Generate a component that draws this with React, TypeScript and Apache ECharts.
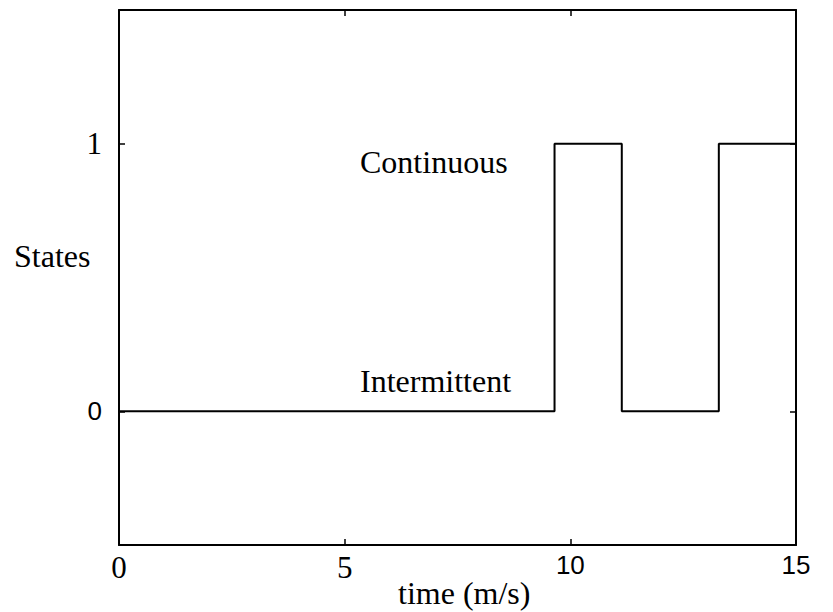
import React, { useEffect, useRef } from "react";
import * as echarts from "echarts";

const switchTimes = [0, 9.65, 11.14, 13.29, 15];
const stateValues = [0, 1, 0, 1, 1];
const xTicks = [0, 5, 10, 15];
const yTicks = [0, 1];
const xRange = [0, 15];
const yRange = [-0.5, 1.5];
const stateLabels = ["Intermittent", "Continuous"];

export default function App() {
  const ref = useRef<HTMLDivElement>(null);
  useEffect(() => {
    if (!ref.current) return;
    const chart = echarts.init(ref.current, undefined, { renderer: "svg" });
    const serif = "Liberation Serif";
    const sans = "Liberation Sans";
    const axisLine = { show: true, onZero: false, lineStyle: { color: "#000", width: 2 } };
    const tickX = { show: true, inside: true, length: 6, customValues: xTicks, lineStyle: { color: "#000", width: 1.5 } };
    const tickY = { show: true, inside: true, length: 6, customValues: yTicks, lineStyle: { color: "#000", width: 1.5 } };
    const data = switchTimes.map((t, i) => [t, stateValues[i]]);
    // x tick labels: 0 and 5 in serif, 10 and 15 in sans (as in the scanned figure)
    const xFont = (v: number) => (v < 10 ? `31px ${serif}` : `26px ${sans}`);
    const yFont = (v: number) => (v === 1 ? `31px ${serif}` : `26px ${sans}`);
    chart.setOption({
      animation: false,
      backgroundColor: "#fff",
      grid: { left: 119, right: 37, top: 10, bottom: 67 },
      xAxis: [
        {
          type: "value",
          min: xRange[0],
          max: xRange[1],
          interval: 5,
          axisLine,
          axisTick: tickX,
          splitLine: { show: false },
          axisLabel: { show: false },
        },
        {
          type: "value",
          position: "top",
          min: xRange[0],
          max: xRange[1],
          interval: 5,
          axisLine,
          axisTick: tickX,
          axisLabel: { show: false },
          splitLine: { show: false },
        },
      ],
      yAxis: [
        {
          type: "value",
          min: yRange[0],
          max: yRange[1],
          interval: 0.5,
          axisLine,
          axisTick: tickY,
          splitLine: { show: false },
          axisLabel: { show: false },
        },
        {
          type: "value",
          position: "right",
          min: yRange[0],
          max: yRange[1],
          interval: 0.5,
          axisLine,
          axisTick: tickY,
          axisLabel: { show: false },
          splitLine: { show: false },
        },
      ],
      series: [
        {
          type: "line",
          step: "end",
          data,
          symbol: "none",
          lineStyle: { color: "#000", width: 2 },
          z: 3,
        },
        {
          type: "custom",
          clip: false,
          silent: true,
          data: xTicks.map((v) => [v, yRange[0]]),
          renderItem: (params: any, api: any) => {
            const v = api.value(0);
            const p = api.coord([v, api.value(1)]);
            return {
              type: "text",
              x: p[0],
              y: p[1] + 7,
              style: { text: String(v), font: xFont(v), fill: "#000", align: "center", verticalAlign: "top" },
            };
          },
        },
        {
          type: "custom",
          clip: false,
          silent: true,
          data: yTicks.map((v) => [xRange[0], v]),
          renderItem: (params: any, api: any) => {
            const v = api.value(1);
            const p = api.coord([api.value(0), v]);
            return {
              type: "text",
              x: p[0] - 17,
              y: p[1],
              style: { text: String(v), font: yFont(v), fill: "#000", align: "right", verticalAlign: "middle" },
            };
          },
        },
      ],
      graphic: [
        { type: "text", x: 14, y: 256, style: { text: "States", font: `32px ${serif}`, fill: "#000", verticalAlign: "middle" } },
        { type: "text", x: 360, y: 162, style: { text: stateLabels[1], font: `32px ${serif}`, fill: "#000", verticalAlign: "middle" } },
        { type: "text", x: 360, y: 381, style: { text: stateLabels[0], font: `32px ${serif}`, fill: "#000", verticalAlign: "middle" } },
        { type: "text", x: 398, y: 593, style: { text: "time (m/s)", font: `32px ${serif}`, fill: "#000", verticalAlign: "middle" } },
      ],
    });
    return () => chart.dispose();
  }, []);
  return <div ref={ref} style={{ position: "fixed", left: 0, top: 0, width: 833, height: 612 }} />;
}
